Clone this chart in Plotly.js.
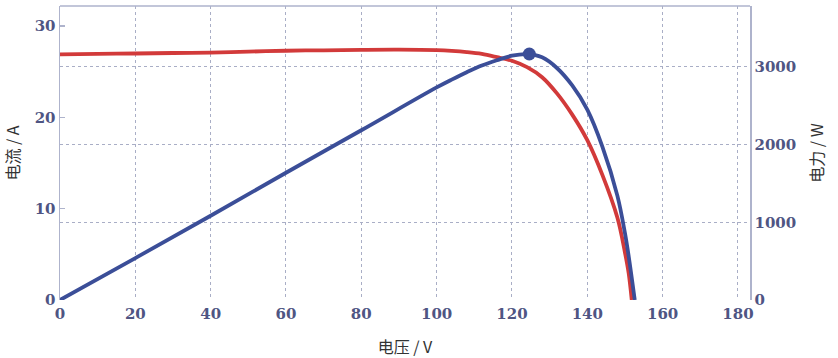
<!DOCTYPE html>
<html>
<head>
<meta charset="utf-8">
<script src="https://cdn.plot.ly/plotly-3.0.1.min.js"></script>
<style>html,body{margin:0;padding:0;background:#fff;}#chart{width:838px;height:358px;}</style>
</head>
<body>
<div id="chart"></div>
<script>
// I-V curve (current, A)
const voltageI = [0, 10, 20, 30, 40, 50, 60, 70, 80, 90, 100, 104, 108, 112, 116, 120, 124, 128, 132, 136, 140, 144, 148, 150, 151, 151.8];
const current  = [26.9, 26.95, 27.0, 27.05, 27.1, 27.2, 27.3, 27.35, 27.4, 27.42, 27.36, 27.28, 27.15, 26.95, 26.6, 26.2, 25.5, 24.4, 22.6, 20.3, 17.5, 13.7, 9.0, 5.2, 2.9, 0];

// P-V curve (power, W)
const voltageP = [0, 20, 40, 60, 80, 100, 104, 108, 112, 116, 120, 124, 128, 132, 136, 140, 144, 148, 150, 151, 152.6];
const power    = [0, 540, 1084, 1638, 2185, 2736, 2837, 2932, 3018, 3086, 3144, 3164, 3123, 2983, 2761, 2450, 1975, 1340, 860, 560, 0];

// maximum power point
const mppV = [124.6];
const mppP = [3166];

const xTicks = [0, 20, 40, 60, 80, 100, 120, 140, 160, 180];
const iTicks = [0, 10, 20, 30];
const pTicks = [0, 1000, 2000, 3000];

const RED = '#d23a3a', BLUE = '#3b4e98';
const tickFont = {family: 'DejaVu Serif, serif', size: 15, color: '#4f5583', weight: 'bold'};
const titleFont = {family: 'Noto Sans CJK SC, sans-serif', size: 16, color: '#333333'};
const lineCol = '#aeb3cc', gridCol = '#a9aec6';

const data = [
  {x: voltageI, y: current, type: 'scatter', mode: 'lines', yaxis: 'y',
   line: {color: RED, width: 3.8, shape: 'spline', smoothing: 1}, hoverinfo: 'skip'},
  {x: voltageP, y: power, type: 'scatter', mode: 'lines', yaxis: 'y2',
   line: {color: BLUE, width: 3.8, shape: 'spline', smoothing: 1}, hoverinfo: 'skip'},
  {x: mppV, y: mppP, type: 'scatter', mode: 'markers', yaxis: 'y2',
   marker: {color: BLUE, size: 13}, hoverinfo: 'skip'}
];

const layout = {
  width: 838, height: 358,
  margin: {l: 60, r: 88, t: 6, b: 58},
  paper_bgcolor: '#ffffff', plot_bgcolor: '#ffffff',
  showlegend: false,
  xaxis: {
    range: [0, 183.2], tickvals: xTicks, ticktext: xTicks.map(String),
    showgrid: true, gridcolor: gridCol, griddash: 'dot', gridwidth: 1,
    zeroline: false, showline: false, ticks: '',
    tickfont: tickFont, automargin: false, ticklabelstandoff: 3,
    title: {text: '电压 / V', font: titleFont, standoff: 20}
  },
  yaxis: {
    range: [0, 32.2], tickvals: iTicks, ticktext: iTicks.map(String),
    showgrid: false, zeroline: false, showline: true, linecolor: lineCol, linewidth: 1.5,
    ticks: 'inside', ticklen: 5, tickcolor: lineCol, tickwidth: 1.5,
    tickfont: tickFont, automargin: false,
    title: {text: '电流 / A', font: titleFont, standoff: 14}
  },
  yaxis2: {
    overlaying: 'y', side: 'right',
    range: [0, 3784], tickvals: pTicks, ticktext: pTicks.map(String),
    showgrid: true, gridcolor: gridCol, griddash: 'dot', gridwidth: 1,
    zeroline: false, showline: true, linecolor: lineCol, linewidth: 1.5,
    ticks: '', tickfont: tickFont, automargin: false,
    title: {text: '电力 / W', font: titleFont, standoff: 16}
  },
  shapes: [
    {type: 'line', xref: 'paper', yref: 'paper', x0: 0, x1: 1, y0: 1, y1: 1,
     line: {color: lineCol, width: 1.5}}
  ]
};

Plotly.newPlot('chart', data, layout, {displayModeBar: false, staticPlot: true});
</script>
</body>
</html>
